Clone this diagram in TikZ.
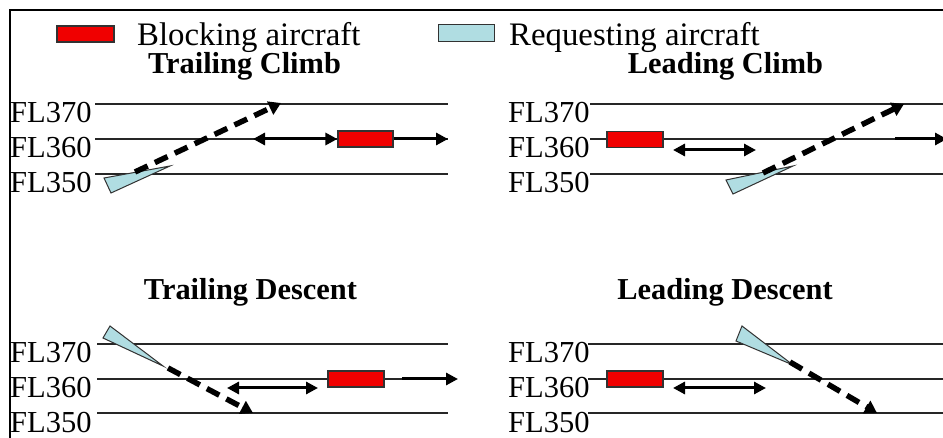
\documentclass[tikz,border=0pt]{standalone}
\usepackage{fontspec}
\setmainfont{Liberation Serif}
\usetikzlibrary{arrows.meta}

\definecolor{blockred}{RGB}{240,0,0}
\definecolor{reqblue}{RGB}{176,221,226}
\definecolor{edgegray}{RGB}{50,50,50}

\tikzset{
  frame/.style={line width=1.5pt, black},
  level/.style={line width=1.5pt, black!85},
  lvllabel/.style={anchor=base west, inner sep=0pt, font=\fontsize{30.5}{34}\selectfont},
  legendtext/.style={anchor=base west, inner sep=0pt, font=\fontsize{32.8}{38}\selectfont},
  paneltitle/.style={anchor=base, inner sep=0pt, font=\bfseries\fontsize{30.4}{34}\selectfont},
  blocker/.style={draw=edgegray, line width=1.2pt, fill=blockred, minimum width=56pt, minimum height=16pt, inner sep=0pt},
  requester/.style={draw=edgegray, line width=1pt, fill=reqblue},
  gap/.style={line width=3pt, {Triangle[length=12pt,width=12pt]}-{Triangle[length=12pt,width=12pt]}},
  onward/.style={line width=3pt, -{Triangle[length=12pt,width=12pt]}},
  climbpath/.style={line width=5.5pt, dash pattern=on 14pt off 8pt, -{Triangle[length=12pt,width=14pt]}}
}

\begin{document}
\begin{tikzpicture}[x=1pt,y=-1pt]
\useasboundingbox (0,0) rectangle (943,438);
\clip (0,0) rectangle (943,438);
\fill[white] (0,0) rectangle (943,438);

% outer frame (top and left edges)
\draw[frame] (10,440) -- (10,10) -- (945,10);

% legend
\node[blocker, minimum width=57pt, minimum height=16pt] (legblk) at (85.5,34) {};
\node[legendtext] (legblktxt) at (137,46) {Blocking aircraft};
\node[requester, minimum width=56pt, minimum height=17pt, inner sep=0pt, rectangle] (legreq) at (466,33.5) {};
\node[legendtext] (legreqtxt) at (509,46) {Requesting aircraft};

% ---------- Trailing Climb ----------
\node[paneltitle] (t1) at (244.5,74) {Trailing Climb};
\foreach \y/\fl in {104/370,139/360,174/350}{
  \draw[level] (95,\y) -- (448,\y);
  \node[lvllabel] at (10,\y+19) {FL\fl};
}
\filldraw[requester] (104,178) -- (111,193) -- (170,166) -- cycle;
\coordinate (a1s) at (135,172);
\coordinate (a1e) at (281,103);
\draw[climbpath] (a1s) -- (a1e);
\node[blocker, minimum width=55pt] (b1) at (365.5,139) {};
\coordinate (g1) at (253,139);
\coordinate (o1) at (448,139);
\draw[gap] (g1) -- (b1.west);
\draw[onward] (b1.east) -- (o1);

% ---------- Leading Climb ----------
\node[paneltitle] (t2) at (725.5,74) {Leading Climb};
\foreach \y/\fl in {104/370,139/360,174/350}{
  \draw[level] (590,\y) -- (945,\y);
  \node[lvllabel] at (508,\y+19) {FL\fl};
}
\node[blocker] (b2) at (635,139.5) {};
\coordinate (g2s) at (673,150);
\coordinate (g2e) at (756,150);
\draw[gap] (g2s) -- (g2e);
\filldraw[requester] (726,180) -- (733,194) -- (793,166) -- cycle;
\coordinate (a2s) at (763,173);
\coordinate (a2e) at (904,104);
\draw[climbpath] (a2s) -- (a2e);
\coordinate (o2s) at (895,139);
\coordinate (o2e) at (947,139);
\draw[onward] (o2s) -- (o2e);

% ---------- Trailing Descent ----------
\node[paneltitle] (t3) at (250.5,300) {Trailing Descent};
\foreach \y/\fl in {344/370,379/360,413/350}{
  \draw[level] (97,\y) -- (448,\y);
  \node[lvllabel] at (10,\y+19) {FL\fl};
}
\filldraw[requester] (110,326) -- (103,338) -- (163,366) -- cycle;
\coordinate (a3s) at (168,368);
\coordinate (a3e) at (253,413);
\draw[climbpath] (a3s) -- (a3e);
\node[blocker] (b3) at (356,379) {};
\coordinate (g3s) at (227,388);
\coordinate (g3e) at (318,388);
\draw[gap] (g3s) -- (g3e);
\coordinate (o3s) at (402,379);
\coordinate (o3e) at (458,379);
\draw[onward] (o3s) -- (o3e);

% ---------- Leading Descent ----------
\node[paneltitle] (t4) at (725,300) {Leading Descent};
\foreach \y/\fl in {344/370,379/360,413/350}{
  \draw[level] (588,\y) -- (945,\y);
  \node[lvllabel] at (508,\y+19) {FL\fl};
}
\node[blocker] (b4) at (635,379) {};
\coordinate (g4s) at (673,388);
\coordinate (g4e) at (766,388);
\draw[gap] (g4s) -- (g4e);
\filldraw[requester] (742,326) -- (736,341) -- (793,365) -- cycle;
\coordinate (a4s) at (790,362);
\coordinate (a4e) at (877,413);
\draw[climbpath] (a4s) -- (a4e);
\end{tikzpicture}
\end{document}
